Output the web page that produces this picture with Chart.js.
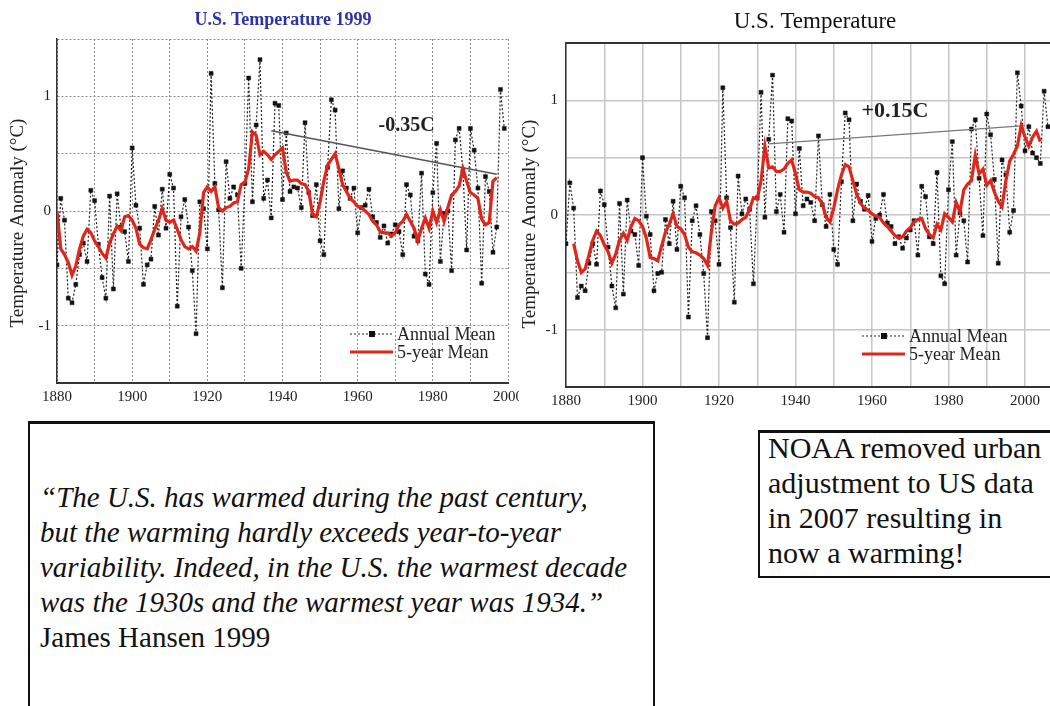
<!DOCTYPE html>
<html>
<head>
<meta charset="utf-8">
<script src="https://cdn.jsdelivr.net/npm/chart.js@4.4.1/dist/chart.umd.min.js"></script>
<style>
  html, body { margin: 0; padding: 0; background: #fff; width: 1050px; height: 706px; overflow: hidden; position: relative; }
  #leftWrap { position: absolute; left: 0; top: 0; width: 519px; height: 420px; overflow: hidden; }
  #rightWrap { position: absolute; left: 519px; top: 0; width: 600px; height: 420px; }
  .box { position: absolute; border: 2px solid #111; border-top-width: 3px; background: #fff; box-sizing: border-box; }
  #quoteBox { left: 28px; top: 421px; width: 627px; height: 300px; }
  #noaaBox { left: 758px; top: 430px; width: 330px; height: 148px; }
  .txt { position: absolute; font-family: "Liberation Serif", "Times New Roman", serif; color: #111; line-height: 35px; white-space: nowrap; }
  #quote { left: 40px; top: 480px; font-size: 29px; }
  #quote i { font-style: italic; }
  #noaa { left: 768px; top: 430px; font-size: 30px; }
</style>
</head>
<body>
<div id="leftWrap"><canvas id="chart1999" width="560" height="420"></canvas></div>
<div id="rightWrap"><canvas id="chart2007" width="600" height="420"></canvas></div>

<div class="box" id="quoteBox"></div>
<div class="txt" id="quote"><i>“The U.S. has warmed during the past century,<br>but the warming hardly exceeds year-to-year<br>variability. Indeed, in the U.S. the warmest decade<br>was the 1930s and the warmest year was 1934.”</i><br>James Hansen 1999</div>

<div class="box" id="noaaBox"></div>
<div class="txt" id="noaa">NOAA removed urban<br>adjustment to US data<br>in 2007 resulting in<br>now a warming!</div>

<script>
// ---- U.S. temperature anomalies (°C), 1999 release ----
const start1999 = 1880;
const annual1999 = [
  -0.47, 0.11, -0.08, -0.76, -0.80, -0.64, -0.38, -0.28, -0.44, 0.18,   // 1880s
   0.09, -0.29, -0.58, -0.76, 0.13, -0.68, 0.15, -0.14, -0.18, -0.44,   // 1890s
   0.55, 0.05, -0.15, -0.64, -0.47, -0.42, 0.04, -0.21, 0.19, -0.15,    // 1900s
   0.32, 0.20, -0.83, -0.05, 0.10, -0.14, -0.52, -1.07, 0.08, 0.02,     // 1910s
  -0.33, 1.20, 0.24, 0.01, -0.67, 0.43, 0.11, 0.21, 0.14, -0.50,        // 1920s
   0.24, 1.16, 0.08, 0.75, 1.32, 0.11, 0.27, -0.06, 0.94, 0.92,         // 1930s
   0.10, 0.68, 0.17, 0.21, 0.20, 0.03, 0.77, 0.16, -0.04, 0.23,         // 1940s
  -0.26, -0.38, 0.38, 0.97, 0.88, 0.02, 0.35, 0.20, 0.11, 0.20,         // 1950s
  -0.19, 0.03, 0.05, 0.19, -0.05, -0.10, -0.23, -0.13, -0.28, -0.20,    // 1960s
  -0.12, -0.18, -0.38, 0.23, 0.14, -0.22, -0.26, 0.33, -0.55, -0.64,    // 1970s
   0.16, 0.59, -0.44, -0.02, 0.00, -0.52, 0.62, 0.72, 0.35, -0.34,      // 1980s
   0.72, 0.53, 0.20, -0.63, 0.30, 0.17, -0.36, -0.14, 1.06, 0.72        // 1990s
];
const fiveYearStart1999 = 1880;
const fiveYear1999 = [
   0.00, -0.33, -0.38, -0.45, -0.56, -0.48, -0.33, -0.22, -0.16, -0.19,
  -0.26, -0.31, -0.37, -0.41, -0.28, -0.20, -0.13, -0.17, -0.05, -0.04,
  -0.08, -0.15, -0.29, -0.32, -0.33, -0.25, -0.16, -0.08, 0.02, -0.08,
  -0.10, -0.08, -0.16, -0.25, -0.31, -0.33, -0.31, -0.35, -0.19, 0.16,
   0.21, 0.17, 0.21, 0.03, 0.00, 0.03, 0.04, 0.07, 0.08, 0.23,
   0.25, 0.37, 0.69, 0.66, 0.49, 0.52, 0.49, 0.45, 0.49, 0.52,
   0.55, 0.34, 0.26, 0.27, 0.27, 0.24, 0.23, 0.17, -0.03, -0.05,
   0.08, 0.26, 0.40, 0.45, 0.50, 0.37, 0.23, 0.17, 0.11, 0.08,
   0.04, 0.03, 0.00, -0.03, -0.09, -0.12, -0.18, -0.19, -0.19, -0.22,
  -0.19, -0.12, -0.09, -0.03, -0.09, -0.15, -0.26, -0.15, -0.06, -0.15,
   0.00, -0.10, 0.01, -0.09, 0.03, 0.14, 0.17, 0.22, 0.37, 0.26,
   0.16, 0.14, 0.11, -0.07, -0.12, -0.10, 0.26, 0.29
];
const trendYears1999 = [1937, 1997];
const trendValues1999 = [0.70, 0.32];
const trendLabel1999 = '-0.35C';

// ---- U.S. temperature anomalies (°C), 2007 release ----
const start2007 = 1880;
const annual2007 = [
  -0.25, 0.28, 0.06, -0.72, -0.62, -0.66, -0.42, -0.25, -0.43, 0.21,   // 1880s
   0.09, -0.28, -0.62, -0.81, 0.10, -0.69, 0.13, -0.14, -0.17, -0.44,   // 1890s
   0.50, -0.01, -0.17, -0.66, -0.51, -0.50, -0.04, -0.25, 0.12, -0.30,  // 1900s
   0.25, 0.15, -0.89, -0.05, 0.08, -0.17, -0.51, -1.07, 0.03, -0.05,    // 1910s
  -0.43, 1.11, 0.15, -0.11, -0.76, 0.34, 0.01, 0.14, 0.05, -0.60,       // 1920s
   0.15, 1.07, -0.02, 0.66, 1.22, 0.03, 0.18, -0.15, 0.84, 0.82,        // 1930s
   0.01, 0.58, 0.08, 0.14, 0.11, -0.05, 0.69, 0.09, -0.10, 0.18,        // 1940s
  -0.30, -0.43, 0.29, 0.89, 0.83, -0.05, 0.27, 0.12, 0.05, 0.17,        // 1950s
  -0.23, -0.03, 0.00, 0.18, -0.07, -0.10, -0.25, -0.19, -0.29, -0.20,   // 1960s
  -0.13, -0.05, -0.35, 0.25, 0.16, -0.19, -0.25, 0.37, -0.53, -0.60,    // 1970s
   0.22, 0.64, -0.35, 0.02, -0.05, -0.41, 0.75, 0.83, 0.32, -0.18,      // 1980s
   0.88, 0.70, 0.31, -0.42, 0.48, 0.35, -0.15, 0.04, 1.24, 0.95,        // 1990s
   0.56, 0.77, 0.54, 0.50, 0.45, 1.08, 0.77                             // 2000s
];
const fiveYearStart2007 = 1882;
const fiveYear2007 = [
  -0.25, -0.40, -0.50, -0.47, -0.35, -0.22, -0.14, -0.18,               // 1882-1889
  -0.26, -0.32, -0.42, -0.34, -0.22, -0.16, -0.22, -0.10, -0.03, -0.05,
  -0.10, -0.20, -0.37, -0.38, -0.40, -0.27, -0.15, -0.08, 0.01, -0.10,
  -0.12, -0.17, -0.28, -0.32, -0.33, -0.35, -0.38, -0.44, -0.15, 0.08,
   0.15, 0.06, 0.12, -0.05, -0.08, -0.07, -0.04, -0.02, 0.05, 0.15,
   0.14, 0.30, 0.60, 0.41, 0.42, 0.38, 0.38, 0.40, 0.45, 0.48,
   0.36, 0.22, 0.20, 0.20, 0.19, 0.16, 0.15, 0.10, -0.02, -0.06,
   0.06, 0.22, 0.35, 0.44, 0.42, 0.30, 0.18, 0.10, 0.06, 0.04,
   0.01, -0.01, -0.02, -0.07, -0.10, -0.14, -0.18, -0.20, -0.19, -0.14,
  -0.11, -0.06, -0.04, -0.03, -0.12, -0.17, -0.20, -0.08, -0.13, 0.01,
  -0.02, -0.06, 0.11, 0.03, 0.22, 0.27, 0.30, 0.52, 0.36, 0.40,
   0.26, 0.30, 0.20, 0.12, 0.07, 0.30, 0.47, 0.53, 0.60, 0.78,
   0.68, 0.60, 0.68, 0.73, 0.64
];
const trendYears2007 = [1933, 2000];
const trendValues2007 = [0.62, 0.78];
const trendLabel2007 = '+0.15C';

// ---- axis labels ----
const xTickLabels = [1880, 1900, 1920, 1940, 1960, 1980, 2000];
const yTickLabels = [-1, 0, 1];
const yAxisTitle = 'Temperature Anomaly (°C)';
const seriesNames = ['Annual Mean', '5-year Mean'];

const SERIF = '"Liberation Serif", "Times New Roman", serif';
const RED = '#e0261b';

function toPoints(firstYear, values) {
  return values.map((v, i) => ({ x: firstYear + i, y: v }));
}
function pairPoints(xs, ys) {
  return xs.map((xv, i) => ({ x: xv, y: ys[i] }));
}

// Titles, axis title, trend note and the in-plot legend
function decorPlugin(o) {
  return {
    id: 'decor',
    afterDraw(chart) {
      const { ctx, chartArea: a, scales: { x, y } } = chart;
      ctx.save();
      if (o.topFrame) {
        ctx.strokeStyle = '#333'; ctx.lineWidth = 2;
        ctx.beginPath(); ctx.moveTo(a.left - 1, a.top); ctx.lineTo(a.right + 2, a.top); ctx.stroke();
      }
      ctx.textAlign = 'center'; ctx.textBaseline = 'middle';
      ctx.fillStyle = o.titleColor; ctx.font = o.titleFont;
      ctx.fillText(o.title, o.titleX, o.titleY);

      ctx.save();
      ctx.translate(o.yTitleX, o.yTitleY);
      ctx.rotate(-Math.PI / 2);
      ctx.fillStyle = '#222'; ctx.font = '19px ' + SERIF;
      ctx.fillText(yAxisTitle, 0, 0);
      ctx.restore();

      ctx.fillStyle = '#222'; ctx.font = o.noteFont;
      ctx.fillText(o.note, x.getPixelForValue(o.noteX), y.getPixelForValue(o.noteY));

      // legend
      const lx = a.left + o.legendDx;
      const ly1 = a.bottom - o.legendDy1, ly2 = a.bottom - o.legendDy2;
      ctx.strokeStyle = '#222'; ctx.lineWidth = 1.2; ctx.setLineDash([2, 2]);
      ctx.beginPath(); ctx.moveTo(lx, ly1); ctx.lineTo(lx + 43, ly1); ctx.stroke();
      ctx.setLineDash([]);
      ctx.fillStyle = '#111'; ctx.fillRect(lx + 19, ly1 - 3, 6, 6);
      ctx.strokeStyle = RED; ctx.lineWidth = 3;
      ctx.beginPath(); ctx.moveTo(lx, ly2); ctx.lineTo(lx + 43, ly2); ctx.stroke();
      ctx.fillStyle = '#222'; ctx.font = '18px ' + SERIF; ctx.textAlign = 'left';
      ctx.fillText(seriesNames[0], lx + 47, ly1 + 1);
      ctx.fillText(seriesNames[1], lx + 47, ly2 + 1);
      ctx.restore();
    }
  };
}

function makeChart(id, o) {
  return new Chart(document.getElementById(id), {
    type: 'line',
    data: {
      datasets: [
        { label: seriesNames[1], data: o.fiveYear, borderColor: RED, borderWidth: 3.2, pointRadius: 0, tension: 0, order: 0 },
        { label: 'trend', data: o.trend, borderColor: o.trendColor, borderWidth: o.trendWidth, pointRadius: 0, order: 1 },
        { label: seriesNames[0], data: o.annual, borderColor: '#222', borderWidth: 1.2, borderDash: [2, 2],
          pointStyle: 'rect', pointRadius: 2.8, pointBackgroundColor: '#111', pointBorderColor: '#111', pointBorderWidth: 0.5,
          tension: 0, order: 2 }
      ]
    },
    options: {
      responsive: false, animation: false, events: [],
      layout: { padding: { left: 0, top: o.padTop, right: o.padRight, bottom: 0 } },
      plugins: { legend: { display: false }, tooltip: { enabled: false }, title: { display: false } },
      scales: {
        x: {
          type: 'linear', min: 1880, max: o.xMax,
          afterFit(s) { s.height = o.xHeight; },
          ticks: { stepSize: 10, autoSkip: false, maxRotation: 0, padding: o.xPad, color: '#222',
                   font: { family: SERIF, size: 15 },
                   callback: v => xTickLabels.includes(v) ? String(v) : '' },
          grid: { color: o.gridColor, lineWidth: o.gridWidth, drawTicks: false },
          border: { display: true, color: '#333', width: 2, dash: o.gridDash }
        },
        y: {
          min: -1.5, max: 1.5,
          afterFit(s) { s.width = o.yWidth; },
          ticks: { stepSize: 0.5, autoSkip: false, padding: o.yPad, color: '#222',
                   font: { family: SERIF, size: 15 },
                   callback: v => yTickLabels.includes(v) ? String(v) : '' },
          grid: { color: o.gridColor, lineWidth: o.gridWidth, drawTicks: false },
          border: { display: true, color: '#333', width: 1.5, dash: o.gridDash }
        }
      }
    },
    plugins: [decorPlugin(o)]
  });
}

makeChart('chart1999', {
  annual: toPoints(start1999, annual1999),
  fiveYear: toPoints(fiveYearStart1999, fiveYear1999),
  trend: pairPoints(trendYears1999, trendValues1999),
  trendColor: '#555', trendWidth: 1.6,
  xMax: 2000, padTop: 39, padRight: 52, xHeight: 37, yWidth: 57, xPad: 5, yPad: 6,
  gridColor: '#8c8c8c', gridWidth: 1, gridDash: [2, 2],
  topFrame: false,
  title: 'U.S. Temperature 1999', titleColor: '#2b33a6', titleFont: 'bold 18px ' + SERIF, titleX: 283, titleY: 20,
  yTitleX: 18, yTitleY: 223,
  note: trendLabel1999, noteX: 1973, noteY: 0.74, noteFont: 'bold 20px ' + SERIF,
  legendDx: 293, legendDy1: 49, legendDy2: 31
});

makeChart('chart2007', {
  annual: toPoints(start2007, annual2007),
  fiveYear: toPoints(fiveYearStart2007, fiveYear2007),
  trend: pairPoints(trendYears2007, trendValues2007),
  trendColor: '#777', trendWidth: 1.2,
  xMax: 2010, padTop: 43, padRight: 55.75, xHeight: 33, yWidth: 47, xPad: 5, yPad: 8,
  gridColor: '#c6c6c6', gridWidth: 1.5, gridDash: [],
  topFrame: true,
  title: 'U.S. Temperature', titleColor: '#111', titleFont: '23px ' + SERIF, titleX: 296, titleY: 22,
  yTitleX: 11, yTitleY: 224,
  note: trendLabel2007, noteX: 1966, noteY: 0.90, noteFont: 'bold 22px ' + SERIF,
  legendDx: 296, legendDy1: 51, legendDy2: 33
});
</script>
</body>
</html>
